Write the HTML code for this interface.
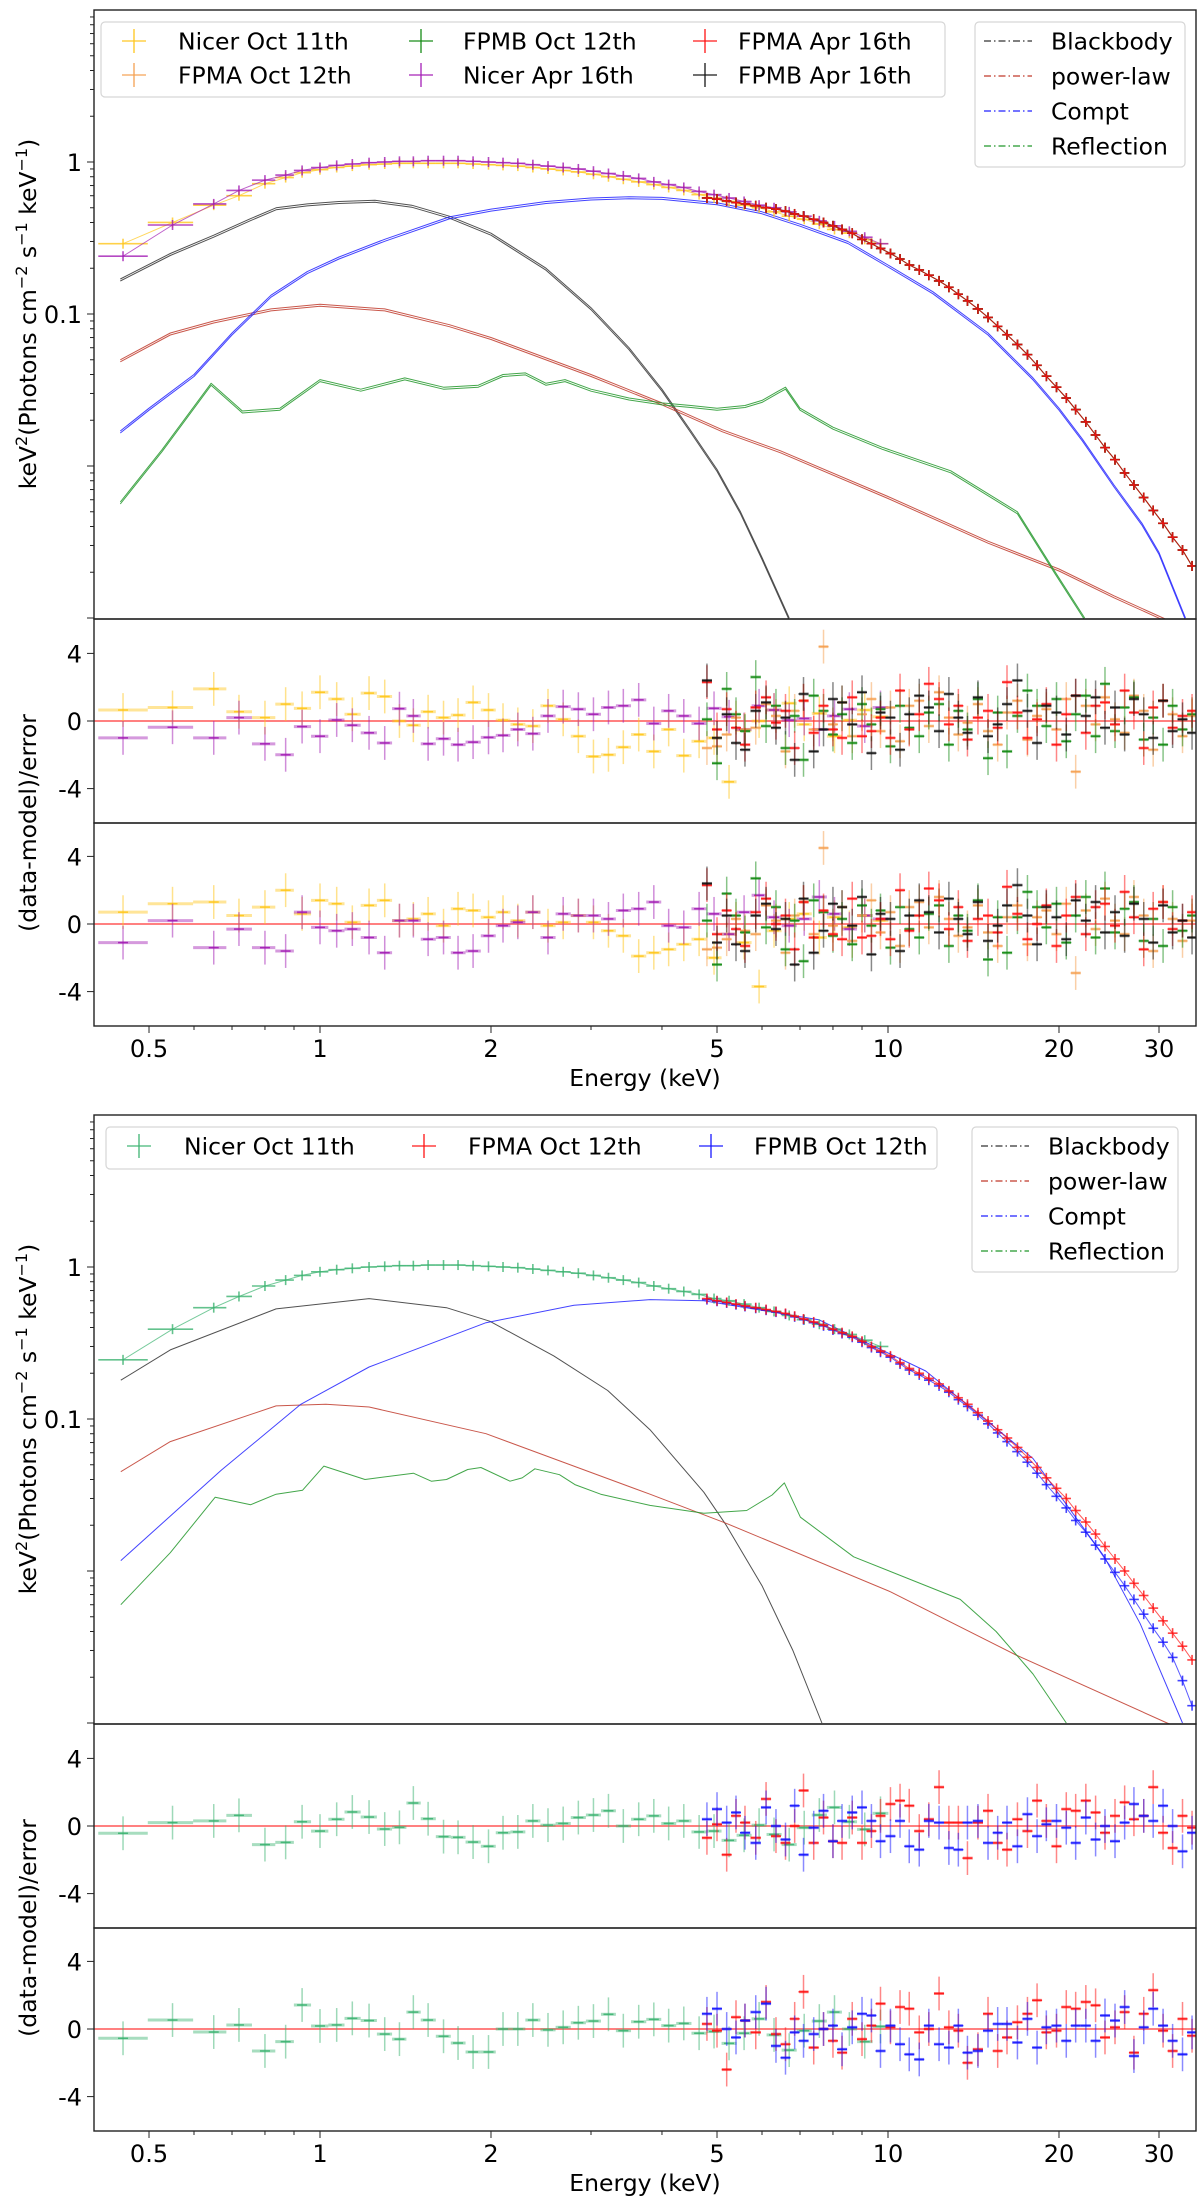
<!DOCTYPE html>
<html><head><meta charset="utf-8"><title>Spectral fits</title>
<style>
html,body{margin:0;padding:0;background:#fff;}
svg{display:block;font-family:"DejaVu Sans","Liberation Sans",sans-serif;}
</style></head>
<body>
<svg id="chart" xmlns="http://www.w3.org/2000/svg" width="1200" height="2206" viewBox="0 0 1200 2206">
<rect x="0" y="0" width="1200" height="2206" fill="#fff"/>
</svg>
<script>
// ===== Data arrays (keV, keV^2 flux, residuals) =====
const nicerE = [0.45,0.55,0.65,0.72,0.8,0.87,0.93,1.0,1.07,1.14,1.22,1.3,1.38,1.46,1.55,1.65,1.75,1.86,1.98,2.1,2.23,2.37,2.52,2.68,2.85,3.03,3.22,3.42,3.64,3.87,4.11,4.37,4.65,4.94,5.25,5.58,5.93,6.3,6.7,7.12,7.57,8.05,8.55,9.1,9.7];
const nuE = [4.8,5.0,5.2,5.4,5.6,5.85,6.1,6.35,6.6,6.85,7.1,7.4,7.7,8.0,8.3,8.65,9.0,9.35,9.7,10.1,10.5,10.9,11.35,11.8,12.3,12.8,13.3,13.8,14.4,15.0,15.6,16.2,16.9,17.6,18.3,19.0,19.8,20.6,21.4,22.3,23.2,24.1,25.1,26.1,27.1,28.2,29.3,30.5,31.7,33.0,34.3];

// top figure fluxes
const fluxNicerOct = [0.29,0.40,0.52,0.60,0.72,0.79,0.85,0.89,0.92,0.94,0.96,0.97,0.98,0.98,0.98,0.98,0.98,0.97,0.96,0.95,0.94,0.92,0.90,0.88,0.86,0.83,0.80,0.77,0.74,0.71,0.68,0.65,0.61,0.58,0.55,0.52,0.50,0.47,0.44,0.42,0.39,0.36,0.34,0.31,0.29];
const fluxNicerApr = [0.24,0.385,0.53,0.65,0.76,0.82,0.88,0.92,0.95,0.97,0.99,1.0,1.01,1.01,1.02,1.02,1.02,1.01,1.0,0.99,0.98,0.96,0.94,0.92,0.90,0.87,0.84,0.81,0.78,0.74,0.71,0.68,0.64,0.61,0.58,0.55,0.52,0.50,0.47,0.44,0.41,0.38,0.35,0.32,0.29];
const fluxNu = [0.58,0.57,0.555,0.54,0.53,0.515,0.5,0.49,0.475,0.455,0.44,0.42,0.40,0.38,0.36,0.34,0.31,0.29,0.27,0.25,0.23,0.21,0.195,0.18,0.165,0.15,0.135,0.122,0.108,0.095,0.083,0.073,0.063,0.054,0.046,0.039,0.033,0.028,0.0235,0.0195,0.016,0.0132,0.011,0.009,0.0075,0.0062,0.0051,0.0042,0.0034,0.0028,0.0022];

// top model components
const bbE1 = [0.445,0.545,0.65,0.75,0.837,0.95,1.08,1.25,1.45,1.69,2,2.5,3,3.5,4,4.5,5,5.5,6,6.7];
const bbV1 = [0.17,0.25,0.33,0.42,0.5,0.53,0.55,0.56,0.52,0.44,0.34,0.2,0.11,0.06,0.032,0.017,0.0095,0.005,0.0025,0.001];
const compE1 = [0.445,0.5,0.6,0.7,0.82,0.95,1.08,1.3,1.69,2,2.5,3,3.5,4,5,6,7,8.5,10,12,15,18,20,22,25,28,30,33.4];
const compV1 = [0.017,0.024,0.04,0.075,0.133,0.19,0.237,0.31,0.435,0.49,0.55,0.58,0.59,0.585,0.54,0.47,0.39,0.3,0.21,0.14,0.075,0.038,0.024,0.015,0.0075,0.0042,0.0027,0.001];
const plE1 = [0.445,0.545,0.65,0.82,1.0,1.3,1.69,2,3,4,5.11,6.46,10,15,20,25,30.5,34.9];
const plV1 = [0.05,0.075,0.09,0.108,0.116,0.108,0.085,0.07,0.04,0.026,0.0173,0.0126,0.0063,0.0032,0.0021,0.0014,0.001,0.0008];
const reflE1 = [0.445,0.527,0.643,0.73,0.85,1.0,1.18,1.41,1.65,1.9,2.1,2.3,2.5,2.7,3.0,3.5,4.0,4.5,5.0,5.6,6.0,6.4,6.6,7.0,8.0,9.76,12.9,16.9,19.7,22.2];
const reflV1 = [0.0058,0.0128,0.035,0.023,0.024,0.037,0.032,0.038,0.033,0.034,0.040,0.041,0.035,0.037,0.032,0.028,0.026,0.025,0.024,0.025,0.027,0.031,0.033,0.024,0.018,0.0133,0.0093,0.005,0.002,0.001];

// top residuals panel 1
const rNicerOct1 = [0.65,0.8,1.9,0.55,0.2,1.0,0.75,1.7,1.3,0.4,1.65,1.45,0,-0.25,0.55,0.2,0.35,1.1,0.65,0.05,-0.2,-0.3,0.9,0.1,-0.9,-2.1,-2.0,-1.55,-0.8,-1.8,-0.5,-2.05,-1.2,-1.0,-3.6,-0.55,0,0.65,1.05,-0.2,0.45,-0.9,0.05,0.65,0.25];
const rNicerApr1 = [-1.0,-0.37,-1.0,0.2,-1.35,-2.0,-0.33,-0.9,0.06,-0.25,-0.7,-1.3,0.73,0.3,-1.35,-1.05,-1.4,-1.25,-0.97,-0.85,-0.5,-0.75,0.3,0.85,0.7,0.4,0.8,0.9,1.25,-0.15,0.6,0.3,-0.15,0.75,0.25,-0.5,0.9,0.65,0.05,0.15,-0.5,0.3,0.7,-0.3,0.8];
const rFpmaOct1 = [-1.6,-1.5,-0.8,0.2,-0.5,-0.4,1.0,0.3,-1.8,0.6,1.2,-0.5,4.4,-0.2,1.1,-0.9,0.4,1.3,-0.6,0.8,-1.2,0.9,1.2,-0.3,1.7,0.2,-0.8,-0.1,1.0,-0.6,-1.4,0.5,1.2,-1.1,0.3,0.7,-0.5,1.3,-3.0,0.9,-0.2,1.4,0.1,-0.7,1.5,0.6,-1.7,1.2,0.4,-0.9,0.3];
const rFpmbOct1 = [0.1,-2.5,1.9,0.4,-0.6,2.6,-0.3,0.9,-1.6,0.3,-2.3,1.5,0.6,-0.8,0.4,-1.3,1.0,-0.2,0.7,-1.5,0.9,-0.4,-0.9,0.5,1.0,-1.4,0.6,-0.5,1.3,-2.2,0.5,-1.8,0.3,1.8,0.9,-0.3,1.3,-1.2,0.4,1.5,-0.9,2.2,-0.6,0.8,1.4,-1.1,0.2,-1.4,0.9,-0.5,0.4];
const rFpmaApr1 = [2.3,-0.5,0.7,-0.4,-1.4,0.8,1.4,-0.1,0.6,-1.6,1.2,-0.7,0.9,-0.5,-1.0,1.4,-0.9,-0.6,0.2,-1.0,1.8,-0.5,0.4,2.2,1.3,-0.2,0.9,-1.1,0.2,0.6,-0.4,2.3,0.5,-1.0,0.1,1.0,-1.4,0.4,1.5,-0.7,0.9,1.1,-0.2,1.8,0.5,-1.6,0.8,1.2,-0.4,0.3,0.6];
const rFpmbApr1 = [2.4,-1.0,0.4,-1.3,-1.7,0.6,1.1,-0.4,0.2,-2.3,1.6,-1.8,-0.5,1.3,1.1,-0.2,1.7,-1.9,0.5,0.2,-1.7,0.4,1.5,0.8,-0.6,1.6,0.2,-0.7,1.4,-0.9,-0.2,1.0,2.4,0.6,-1.3,0.9,0.5,-0.8,1.5,0.3,1.4,-0.4,0.8,-0.8,1.3,0.4,-1.0,1.2,-0.6,0.1,-0.7];
// top residuals panel 2
const rNicerOct2 = [0.7,1.2,1.3,0.5,1.0,2.0,0.6,1.4,1.2,0.1,1.1,1.4,0.2,0.3,0.6,-0.1,0.9,0.8,0.4,0.7,0.2,0.7,-0.1,0.1,0.5,0.1,-0.4,-0.7,-1.9,-1.7,-1.5,-1.2,-0.9,-2.0,-0.6,-1.1,-3.7,-0.4,0.3,0.6,-0.8,0.4,-0.2,0.5,0.2];
const rNicerApr2 = [-1.1,0.2,-1.4,-0.3,-1.4,-1.6,0.7,-0.2,-0.4,-0.3,-0.8,-1.7,0.2,0.2,-0.9,-0.8,-1.7,-1.6,-0.7,-0.1,0.1,0.7,-0.8,0.6,0.5,0.5,0.3,0.8,0.9,1.3,-0.1,-0.2,0.9,0.6,-0.6,0.7,1.7,0.4,-0.1,0.3,1.6,0.6,-0.3,0.5,0.3];
const rFpmaOct2 = [-1.5,-1.4,-0.9,0.3,-0.4,-0.6,1.1,0.2,-1.7,0.5,1.3,-0.6,4.5,-0.1,1.0,-1.0,0.5,1.4,-0.5,0.7,-1.3,1.0,1.3,-0.2,1.6,0.3,-0.7,-0.2,1.1,-0.5,-1.3,0.4,1.1,-1.2,0.4,0.8,-0.6,1.2,-2.9,0.8,-0.3,1.5,0.2,-0.6,1.6,0.5,-1.6,1.3,0.3,-1.0,0.2];
const rFpmbOct2 = [0.2,-2.4,1.8,0.5,-0.5,2.7,-0.2,1.0,-1.5,0.2,-2.2,1.4,0.7,-0.7,0.3,-1.2,1.1,-0.1,0.8,-1.4,1.0,-0.3,-0.8,0.6,1.1,-1.3,0.5,-0.4,1.4,-2.1,0.4,-1.7,0.4,1.9,1.0,-0.2,1.2,-1.1,0.5,1.6,-0.8,2.1,-0.5,0.9,1.3,-1.0,0.3,-1.3,1.0,-0.4,0.5];
const rFpmaApr2 = [2.3,-0.6,0.8,-0.3,-1.3,0.7,1.5,0.0,0.5,-1.5,1.3,-0.8,0.8,-0.6,-0.9,1.5,-0.8,-0.7,0.3,-0.9,2.0,-0.4,0.5,2.1,1.4,-0.3,1.0,-1.0,0.3,0.5,-0.5,2.2,0.6,-0.9,0.0,1.1,-1.3,0.5,1.6,-0.6,1.0,1.2,-0.1,1.9,0.4,-1.5,0.9,1.3,-0.3,0.2,0.7];
const rFpmbApr2 = [2.4,-1.1,0.5,-1.2,-1.6,0.5,1.2,-0.3,0.3,-2.4,1.5,-1.7,-0.4,1.2,1.0,-0.1,1.6,-1.8,0.6,0.3,-1.6,0.5,1.4,0.7,-0.5,1.5,0.3,-0.6,1.3,-1.0,-0.1,1.1,2.3,0.5,-1.2,1.0,0.4,-0.9,1.4,0.2,1.3,-0.5,0.7,-0.7,1.2,0.3,-1.1,1.1,-0.5,0.2,-0.8];

// bottom figure fluxes
const fluxNicerB = [0.245,0.39,0.54,0.64,0.75,0.82,0.88,0.93,0.96,0.98,1.0,1.01,1.02,1.02,1.03,1.03,1.03,1.02,1.01,1.0,0.99,0.97,0.95,0.93,0.91,0.88,0.85,0.82,0.79,0.75,0.72,0.69,0.66,0.62,0.6,0.57,0.54,0.51,0.48,0.45,0.42,0.39,0.36,0.33,0.3];
const fluxNuA2 = [0.62,0.6,0.585,0.57,0.555,0.54,0.525,0.51,0.495,0.475,0.455,0.435,0.415,0.39,0.37,0.35,0.325,0.30,0.28,0.26,0.235,0.215,0.20,0.185,0.17,0.153,0.138,0.125,0.11,0.097,0.085,0.075,0.065,0.056,0.048,0.041,0.035,0.030,0.025,0.021,0.0175,0.0145,0.012,0.01,0.0083,0.0069,0.0057,0.0047,0.0039,0.0032,0.0026];
const fluxNuB2 = [0.61,0.595,0.58,0.565,0.55,0.535,0.52,0.505,0.49,0.47,0.45,0.43,0.41,0.385,0.365,0.345,0.32,0.295,0.275,0.255,0.23,0.21,0.195,0.18,0.165,0.15,0.134,0.121,0.106,0.093,0.081,0.071,0.061,0.052,0.044,0.037,0.031,0.026,0.0215,0.018,0.0148,0.012,0.0098,0.008,0.0065,0.0052,0.0042,0.0034,0.0027,0.0019,0.0013];

// bottom model components
const bbE2 = [0.446,0.545,0.837,1.22,1.67,1.99,2.58,3.21,3.81,4.74,5.19,6,6.8,7.65];
const bbV2 = [0.18,0.285,0.53,0.62,0.54,0.44,0.26,0.154,0.085,0.033,0.02,0.008,0.003,0.001];
const compE2 = [0.446,0.67,0.925,1.22,1.96,2.8,3.81,4.74,7.55,11.65,18,24,27.8,33];
const compV2 = [0.0117,0.046,0.125,0.22,0.43,0.56,0.61,0.6,0.45,0.207,0.055,0.0125,0.0045,0.001];
const plE2 = [0.446,0.545,0.837,1.024,1.22,1.96,3.81,5.19,10.1,16.8,31,34.9];
const plV2 = [0.045,0.071,0.122,0.125,0.12,0.08,0.032,0.0206,0.0073,0.0028,0.001,0.00085];
const reflE2 = [0.446,0.545,0.654,0.755,0.837,0.932,1.016,1.2,1.46,1.57,1.67,1.82,1.92,2.16,2.27,2.39,2.64,2.81,3.12,3.81,4.74,5.64,6.25,6.57,7.01,8.7,13.4,15.5,18,20.6];
const reflV2 = [0.006,0.0132,0.0306,0.0273,0.032,0.034,0.049,0.04,0.044,0.039,0.04,0.0465,0.048,0.039,0.041,0.047,0.043,0.037,0.032,0.027,0.024,0.025,0.0316,0.038,0.0226,0.0124,0.0065,0.004,0.0021,0.001];

// bottom residuals
const rNicerB1 = [-0.43,0.2,0.3,0.63,-1.1,-0.97,0.25,-0.3,0.4,0.83,0.53,-0.18,-0.08,1.36,0.43,-0.63,-0.67,-0.95,-1.2,-0.4,-0.35,0.3,0.05,0.15,0.5,0.65,0.9,0.0,0.4,0.6,0.15,0.3,-0.35,-0.3,-0.85,-0.55,0.05,-0.5,-1.1,-0.1,0.65,1.1,0.25,-0.2,0.75];
const rFpmaB1 = [-0.7,0.1,-1.7,0.6,0.2,-0.7,1.6,-0.6,-1.0,0.0,2.1,-1.0,0.5,-0.9,-1.0,0.5,-1.0,-0.3,0.6,1.3,1.5,1.2,-0.3,0.4,2.3,0.2,0.2,-1.9,0.2,0.9,-1.0,-1.4,0.4,-0.3,1.5,0.3,-1.2,1.0,0.9,1.5,0.8,-0.4,0.6,1.4,0.4,0.6,2.3,-0.4,-1.3,0.6,-0.1];
const rFpmbB1 = [0.4,1.0,0.2,0.8,-0.4,-1.0,1.1,0.0,-0.8,1.2,-1.7,-0.1,0.9,-0.9,0.3,0.8,1.1,0.3,-0.9,-0.6,0.3,-1.2,-1.4,0.3,0.2,-1.3,-1.4,0.2,0.3,-1.0,-0.4,0.2,-1.2,0.7,-0.6,0.1,0.3,-0.1,-1.0,0.5,-0.8,0.0,-0.9,0.2,1.3,0.6,0.3,1.2,0.0,-1.5,-0.4];
const rNicerB2 = [-0.55,0.53,-0.18,0.24,-1.3,-0.75,1.42,0.18,0.24,0.63,0.5,-0.3,-0.6,1.0,0.53,-0.43,-0.83,-1.36,-1.36,0.0,0.0,0.53,-0.05,0.1,0.37,0.47,0.87,-0.1,0.43,0.57,0.2,0.33,-0.25,-0.15,-0.85,-0.25,0.6,-0.35,-1.25,-0.1,0.47,1.0,0.0,-0.75,0.15];
const rFpmaB2 = [0.3,-0.1,-2.4,0.7,0.5,-0.2,1.6,-0.3,-0.9,0.6,2.2,-1.1,0.0,-0.7,-1.4,0.6,-0.6,0.2,1.5,0.1,1.3,1.2,-0.2,0.0,2.1,0.1,-0.1,-2.0,-1.2,0.9,-1.3,-0.5,0.4,0.9,1.7,-0.2,-0.1,1.3,1.2,1.6,1.4,-0.5,0.1,1.0,-1.4,0.9,2.3,-0.1,-1.3,0.6,-0.4];
const rFpmbB2 = [0.9,1.2,0.0,-0.5,0.5,1.0,1.5,-1.0,-1.7,-0.2,-0.7,-0.3,0.0,0.2,-1.2,0.1,0.9,0.8,-1.3,0.2,-0.9,-1.5,-1.8,0.2,-0.9,-1.1,0.2,-1.4,-1.3,-0.1,0.3,0.3,-0.8,0.6,-1.1,0.1,0.2,-0.7,0.2,0.2,-0.7,0.8,0.5,1.3,-1.6,0.1,1.2,0.2,-0.7,-1.5,-0.2];

const xTickVals = [0.5,1,2,5,10,20,30];
const xTickLabels = ['0.5','1','2','5','10','20','30'];
const yMainTickVals = [1,0.1];
const yMainTickLabels = ['1','0.1'];
const yResTickVals = [4,0,-4];
const yResTickLabels = ['4','0','-4'];

// ===== rendering =====
const NS = 'http://www.w3.org/2000/svg';
const svg = document.getElementById('chart');
const L = 94, R = 1196;
const FS_TICK = 24, FS_LEG = 23.5, FS_TITLE = 23.5;
function mk(tag, attrs, parent) {
  const e = document.createElementNS(NS, tag);
  for (const k in attrs) e.setAttribute(k, attrs[k]);
  (parent || svg).appendChild(e);
  return e;
}
const xS = E => 320 + 568 * Math.log10(E);
function edges(arr) {
  const lo = [], hi = [];
  for (let i = 0; i < arr.length; i++) {
    const p = i > 0 ? Math.sqrt(arr[i - 1] * arr[i]) : arr[i] * arr[i] / Math.sqrt(arr[i] * arr[i + 1]);
    const n = i < arr.length - 1 ? Math.sqrt(arr[i] * arr[i + 1]) : arr[i] * arr[i] / Math.sqrt(arr[i - 1] * arr[i]);
    lo.push(p); hi.push(n);
  }
  return [lo, hi];
}

function drawFigure(off, fig) {
  const yM = v => off + 162 - 152 * Math.log10(v);
  const yR1 = r => off + 721 - 16.9 * r;
  const yR2 = r => off + 924 - 16.9 * r;
  const T = off + 10, B1 = off + 619, B2 = off + 823, B3 = off + 1026;
  const g = mk('g', {});
  
  
  const defs = mk('defs', {}, g);
  [['m', T, B1], ['r1', B1, B2], ['r2', B2, B3]].forEach(([id, a, b]) => {
    const cp = mk('clipPath', { id: fig.id + id }, defs);
    mk('rect', { x: L, y: a, width: R - L, height: b - a }, cp);
  });

  // ---- main panel ----
  const main = mk('g', { 'clip-path': 'url(#' + fig.id + 'm)' }, g);
  
  
  fig.models.forEach(md => {
    const pts = md.E.map((e, i) => xS(e).toFixed(1) + ',' + yM(md.V[i]).toFixed(1)).join(' ');
    const copies = fig.double ? [0, 2] : [0];
    copies.forEach(dy => {
      const pl = mk('polyline', { points: pts, fill: 'none', stroke: md.color, 'stroke-width': 1, 'stroke-opacity': 0.85, 'stroke-linejoin': 'round', transform: 'translate(0,' + dy + ')' }, main);
      
      
    });
  });
  fig.sets.forEach(s => {
    const [lo, hi] = edges(s.E);
    const pts = s.E.map((e, i) => xS(e).toFixed(1) + ',' + yM(s.F[i]).toFixed(1)).join(' ');
    const ln = mk('polyline', { points: pts, fill: 'none', stroke: s.color, 'stroke-width': 1, 'stroke-opacity': 0.7 }, main);
    
    
    const sg = mk('g', { stroke: s.color, 'stroke-width': 1.6, 'stroke-opacity': 0.8 }, main);
    
    
    s.E.forEach((e, i) => {
      const y = yM(s.F[i]), x = xS(e);
      mk('line', { x1: xS(lo[i]), x2: xS(hi[i]), y1: y, y2: y }, sg);
      mk('line', { x1: x, x2: x, y1: y - 5, y2: y + 5 }, sg);
    });
  });

  // ---- residual panels ----
  [[fig.res1, yR1, 'r1', off + 721], [fig.res2, yR2, 'r2', off + 924]].forEach(([res, ys, cid, y0], pi) => {
    const pg = mk('g', { 'clip-path': 'url(#' + fig.id + cid + ')' }, g);
    
    
    const zl = mk('line', { x1: L, x2: R, y1: y0, y2: y0, stroke: '#ff6060', 'stroke-width': 2, 'stroke-opacity': 0.8 }, pg);
    
    
    res.forEach(s => {
      const [lo, hi] = edges(s.E);
      const sg = mk('g', { stroke: s.color, 'stroke-width': 1.5 }, pg);
      
      
      s.R.forEach((r, i) => {
        const x = xS(s.E[i]), y = ys(r);
        mk('line', { x1: x, x2: x, y1: ys(r + 1), y2: ys(r - 1), 'stroke-opacity': 0.5 }, sg);
        mk('line', { x1: xS(lo[i]), x2: xS(hi[i]), y1: y, y2: y, 'stroke-opacity': 0.45, 'stroke-width': 3 }, sg);
        mk('line', { x1: x - 5, x2: x + 5, y1: y, y2: y, 'stroke-opacity': 0.9 }, sg);
      });
    });
  });

  // ---- frames ----
  [[T, B1], [B1, B2], [B2, B3]].forEach(([a, b], i) => {
    const fr = mk('rect', { x: L, y: a, width: R - L, height: b - a, fill: 'none', stroke: '#222', 'stroke-width': 1.4 }, g);
    
    
  });

  // ---- y ticks main ----
  const ax = mk('g', { stroke: '#222', 'stroke-width': 1 }, g);
  for (let d = -3; d <= 0; d++) {
    for (let m = 1; m <= 9; m++) {
      const v = m * Math.pow(10, d), y = yM(v);
      if (y < T || y > B1) continue;
      mk('line', { x1: L, x2: L - (m === 1 ? 7 : 4), y1: y, y2: y }, ax);
    }
  }
  yMainTickVals.forEach((v, i) => {
    const t = mk('text', { x: 82, y: yM(v) + 9, 'text-anchor': 'end', 'font-size': FS_TICK, fill: '#000' }, g);
    t.textContent = yMainTickLabels[i];
    
    
  });
  [yR1, yR2].forEach(ys => {
    yResTickVals.forEach((v, i) => {
      mk('line', { x1: L, x2: L - 7, y1: ys(v), y2: ys(v) }, ax);
      const t = mk('text', { x: 82, y: ys(v) + 9, 'text-anchor': 'end', 'font-size': FS_TICK, fill: '#000' }, g);
      t.textContent = yResTickLabels[i];
      
      
    });
  });
  // x ticks
  const minors = [0.4,0.6,0.7,0.8,0.9,3,4,6,7,8,9];
  minors.forEach(v => { const x = xS(v); if (x > L) mk('line', { x1: x, x2: x, y1: B3, y2: B3 + 4 }, ax); });
  xTickVals.forEach((v, i) => {
    const x = xS(v);
    mk('line', { x1: x, x2: x, y1: B3, y2: B3 + 7 }, ax);
    const t = mk('text', { x: x, y: B3 + 31, 'text-anchor': 'middle', 'font-size': FS_TICK, fill: '#000' }, g);
    t.textContent = xTickLabels[i];
    
    
  });
  const xl = mk('text', { x: 645, y: B3 + 60, 'text-anchor': 'middle', 'font-size': FS_TITLE, fill: '#000' }, g);
  xl.textContent = 'Energy (keV)';
  
  

  // y labels
  const yl = mk('text', { x: 0, y: 0, transform: 'translate(36,' + (off + 314) + ') rotate(-90)', 'text-anchor': 'middle', 'font-size': FS_TITLE, fill: '#000' }, g);
  yl.innerHTML = 'keV<tspan dy="-9" font-size="16">2</tspan><tspan dy="9">(Photons cm</tspan><tspan dy="-9" font-size="16">−2</tspan><tspan dy="9"> s</tspan><tspan dy="-9" font-size="16">−1</tspan><tspan dy="9"> keV</tspan><tspan dy="-9" font-size="16">−1</tspan><tspan dy="9">)</tspan>';
  
  
  const yl2 = mk('text', { x: 0, y: 0, transform: 'translate(36,' + (off + 823) + ') rotate(-90)', 'text-anchor': 'middle', 'font-size': FS_TITLE, fill: '#000' }, g);
  yl2.textContent = '(data-model)/error';
  
  

  // legends
  const lg = mk('g', {}, g);
  
  
  mk('rect', { x: fig.leg1.x, y: off + 22, width: fig.leg1.w, height: fig.leg1.h, rx: 4, fill: '#fff', 'fill-opacity': 0.85, stroke: '#d6d6d6', 'stroke-width': 1.2 }, lg);
  fig.leg1.items.forEach(it => {
    const y = off + it.y;
    const eg = mk('g', {}, lg);
    
    
    mk('line', { x1: it.mx - 12, x2: it.mx + 12, y1: y, y2: y, stroke: it.color, 'stroke-width': 1.6, 'stroke-opacity': 0.8 }, eg);
    mk('line', { x1: it.mx, x2: it.mx, y1: y - 12, y2: y + 12, stroke: it.color, 'stroke-width': 1.6, 'stroke-opacity': 0.8 }, eg);
    const t = mk('text', { x: it.tx, y: y + 8.5, 'font-size': FS_LEG, fill: '#000', 'xml:space': 'preserve' }, eg);
    t.textContent = it.label;
  });
  const lg2 = mk('g', {}, g);
  
  
  mk('rect', { x: fig.leg2.x, y: off + 22, width: fig.leg2.w, height: 145, rx: 4, fill: '#fff', 'fill-opacity': 0.85, stroke: '#d6d6d6', 'stroke-width': 1.2 }, lg2);
  fig.models.forEach((md, i) => {
    const y = off + 41 + i * 35;
    const eg = mk('g', {}, lg2);
    
    
    mk('line', { x1: fig.leg2.x + 9, x2: fig.leg2.x + 57, y1: y, y2: y, stroke: md.color, 'stroke-width': 1.3, 'stroke-dasharray': '7,3,1.5,3' }, eg);
    const t = mk('text', { x: fig.leg2.x + 76, y: y + 8.5, 'font-size': FS_LEG, fill: '#000' }, eg);
    t.textContent = md.label;
  });
}

const C = { gold: '#ffc61a', orange: '#f5a050', green: '#118a11', purple: '#a21cb4', red: '#ff1010', black: '#111', sea: '#3cb371', blue: '#1515ff' };

drawFigure(0, {
  id: 'f1', name: 'figure-top', double: true,
  models: [
    { key: 'blackbody', label: 'Blackbody', color: '#333', E: bbE1, V: bbV1 },
    { key: 'power-law', label: 'power-law', color: '#c0392b', E: plE1, V: plV1 },
    { key: 'compt', label: 'Compt', color: '#2222ff', E: compE1, V: compV1 },
    { key: 'reflection', label: 'Reflection', color: '#22962a', E: reflE1, V: reflV1 }
  ],
  sets: [
    { key: 'nicer-oct', color: C.gold, E: nicerE, F: fluxNicerOct },
    { key: 'nicer-apr', color: C.purple, E: nicerE, F: fluxNicerApr },
    { key: 'fpma-oct', color: C.orange, E: nuE, F: fluxNu },
    { key: 'fpmb-oct', color: C.green, E: nuE, F: fluxNu },
    { key: 'fpmb-apr', color: C.black, E: nuE, F: fluxNu },
    { key: 'fpma-apr', color: C.red, E: nuE, F: fluxNu }
  ],
  res1: [
    { key: 'nicer-oct', color: C.gold, E: nicerE, R: rNicerOct1 },
    { key: 'nicer-apr', color: C.purple, E: nicerE, R: rNicerApr1 },
    { key: 'fpma-oct', color: C.orange, E: nuE, R: rFpmaOct1 },
    { key: 'fpmb-oct', color: C.green, E: nuE, R: rFpmbOct1 },
    { key: 'fpma-apr', color: C.red, E: nuE, R: rFpmaApr1 },
    { key: 'fpmb-apr', color: C.black, E: nuE, R: rFpmbApr1 }
  ],
  res2: [
    { key: 'nicer-oct', color: C.gold, E: nicerE, R: rNicerOct2 },
    { key: 'nicer-apr', color: C.purple, E: nicerE, R: rNicerApr2 },
    { key: 'fpma-oct', color: C.orange, E: nuE, R: rFpmaOct2 },
    { key: 'fpmb-oct', color: C.green, E: nuE, R: rFpmbOct2 },
    { key: 'fpma-apr', color: C.red, E: nuE, R: rFpmaApr2 },
    { key: 'fpmb-apr', color: C.black, E: nuE, R: rFpmbApr2 }
  ],
  leg1: { x: 101, w: 844, h: 75, items: [
    { label: 'Nicer Oct 11th', color: C.gold, mx: 134, tx: 178, y: 41 },
    { label: 'FPMA Oct 12th', color: C.orange, mx: 134, tx: 178, y: 75 },
    { label: 'FPMB Oct 12th', color: C.green, mx: 421, tx: 463, y: 41 },
    { label: 'Nicer Apr 16th', color: C.purple, mx: 421, tx: 463, y: 75 },
    { label: 'FPMA  Apr 16th', color: C.red, mx: 705, tx: 738, y: 41 },
    { label: 'FPMB Apr 16th', color: C.black, mx: 705, tx: 738, y: 75 }
  ] },
  leg2: { x: 975, w: 210 }
});

drawFigure(1105, {
  id: 'f2', name: 'figure-bottom', double: false,
  models: [
    { key: 'blackbody', label: 'Blackbody', color: '#333', E: bbE2, V: bbV2 },
    { key: 'power-law', label: 'power-law', color: '#c0392b', E: plE2, V: plV2 },
    { key: 'compt', label: 'Compt', color: '#2222ff', E: compE2, V: compV2 },
    { key: 'reflection', label: 'Reflection', color: '#22962a', E: reflE2, V: reflV2 }
  ],
  sets: [
    { key: 'nicer-oct', color: C.sea, E: nicerE, F: fluxNicerB },
    { key: 'fpmb-oct', color: C.blue, E: nuE, F: fluxNuB2 },
    { key: 'fpma-oct', color: C.red, E: nuE, F: fluxNuA2 }
  ],
  res1: [
    { key: 'nicer-oct', color: C.sea, E: nicerE, R: rNicerB1 },
    { key: 'fpma-oct', color: C.red, E: nuE, R: rFpmaB1 },
    { key: 'fpmb-oct', color: C.blue, E: nuE, R: rFpmbB1 }
  ],
  res2: [
    { key: 'nicer-oct', color: C.sea, E: nicerE, R: rNicerB2 },
    { key: 'fpma-oct', color: C.red, E: nuE, R: rFpmaB2 },
    { key: 'fpmb-oct', color: C.blue, E: nuE, R: rFpmbB2 }
  ],
  leg1: { x: 106, w: 831, h: 42, items: [
    { label: 'Nicer Oct 11th', color: C.sea, mx: 139, tx: 184, y: 41 },
    { label: 'FPMA Oct 12th', color: C.red, mx: 424, tx: 468, y: 41 },
    { label: 'FPMB Oct 12th', color: C.blue, mx: 711, tx: 754, y: 41 }
  ] },
  leg2: { x: 972, w: 206 }
});
</script>
</body></html>
